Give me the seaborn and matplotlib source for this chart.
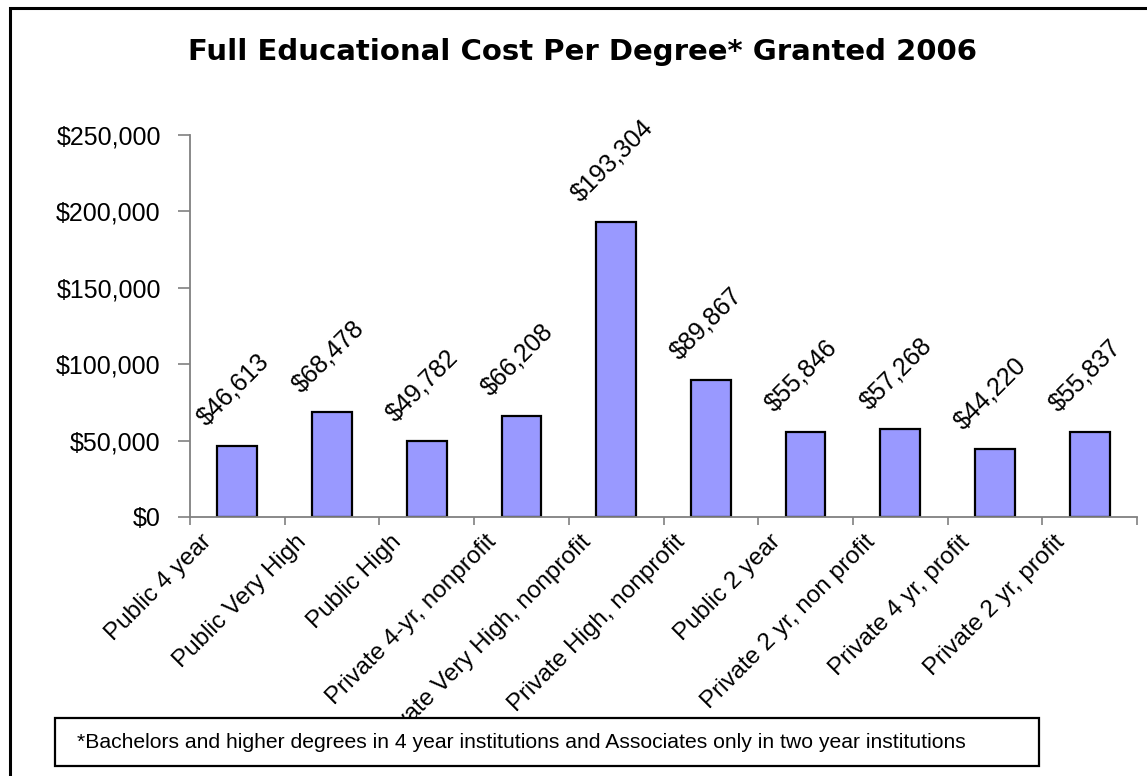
import matplotlib
matplotlib.use("Agg")
import matplotlib.pyplot as plt
import seaborn as sns
import pandas as pd
from matplotlib.patches import Rectangle
from matplotlib.ticker import FuncFormatter, FixedLocator
from matplotlib.transforms import ScaledTranslation

# Institution types and full educational cost per degree granted (2006, USD)
categories = [
    "Public 4 year",
    "Public Very High",
    "Public High",
    "Private 4-yr, nonprofit",
    "Private Very High, nonprofit",
    "Private High, nonprofit",
    "Public 2 year",
    "Private 2 yr, non profit",
    "Private 4 yr, profit",
    "Private 2 yr, profit",
]
costs = [46613, 68478, 49782, 66208, 193304, 89867, 55846, 57268, 44220, 55837]
y_ticks = [0, 50000, 100000, 150000, 200000, 250000]

title_text = "Full Educational Cost Per Degree* Granted 2006"
footnote_text = ("*Bachelors and higher degrees in 4 year institutions "
                 "and Associates only in two year institutions")

sns.set_theme(style="white")
plt.rcParams["font.family"] = ["Liberation Sans", "DejaVu Sans"]

W, H = 1147, 776
fig = plt.figure(figsize=(W / 100, H / 100), dpi=100)
fig.patch.set_facecolor("white")

# Plot area in pixel terms
left, right, bottom, top = 190, 1137, 517, 135
ax = fig.add_axes([left / W, 1 - bottom / H, (right - left) / W, (bottom - top) / H])

df = pd.DataFrame({"category": categories, "cost": costs})
sns.barplot(data=df, x="category", y="cost", color="#9999FF", saturation=1,
            width=0.42, edgecolor="black", linewidth=1.6, ax=ax)

ax.set_xlim(-0.5, len(categories) - 0.5)
ax.set_ylim(0, y_ticks[-1])
ax.set_xlabel("")
ax.set_ylabel("")

for side in ("top", "right"):
    ax.spines[side].set_visible(False)
for side in ("left", "bottom"):
    ax.spines[side].set_color("#808080")
    ax.spines[side].set_linewidth(1.3)

# Y axis: currency ticks
ax.set_yticks(y_ticks)
ax.yaxis.set_major_formatter(FuncFormatter(lambda v, _: f"${v:,.0f}"))
ax.tick_params(axis="y", which="major", direction="out", length=9, width=1.2,
               color="#808080", labelsize=18, pad=12, labelcolor="black", left=True)

# X axis: labels near category centres, tick marks at category boundaries
ax.set_xticks(range(len(categories)))
ax.set_xticklabels(categories, rotation=45, ha="right", va="top",
                   fontsize=17.5, color="black")
ax.tick_params(axis="x", which="major", length=0, pad=10)
shift = ScaledTranslation(-21 / 100, 0, fig.dpi_scale_trans)
for lbl in ax.get_xticklabels():
    lbl.set_transform(lbl.get_transform() + shift)
ax.xaxis.set_minor_locator(FixedLocator([i - 0.5 for i in range(len(categories) + 1)]))
ax.tick_params(axis="x", which="minor", direction="out", length=6, width=1.2,
               color="#808080", bottom=True)

# Value labels above each bar
for i, v in enumerate(costs):
    ax.annotate(f"${v:,}", (i, v), xytext=(-3, 11), textcoords="offset points",
                rotation=45, ha="center", va="bottom", fontsize=18, color="black")

# Title
fig.text(583 / W, 1 - 52 / H, title_text, ha="center", va="center",
         fontsize=21, fontweight="bold", family=["DejaVu Sans"], color="black")

# Outer chart frame
fig.patches.append(Rectangle((10 / W, -0.05), 1.1, 1 - 8 / H + 0.05,
                             transform=fig.transFigure, fill=False,
                             edgecolor="black", linewidth=2.2, zorder=4))

# Footnote box drawn over the plot
fig.patches.append(Rectangle((55 / W, 1 - 766 / H), (1039 - 55) / W, (766 - 718) / H,
                             transform=fig.transFigure, facecolor="white",
                             edgecolor="black", linewidth=1.6, zorder=5))
fig.text(77 / W, 1 - 742 / H, footnote_text, ha="left", va="center",
         fontsize=15.2, color="black", zorder=6)

fig.savefig("out.png", dpi=100)
